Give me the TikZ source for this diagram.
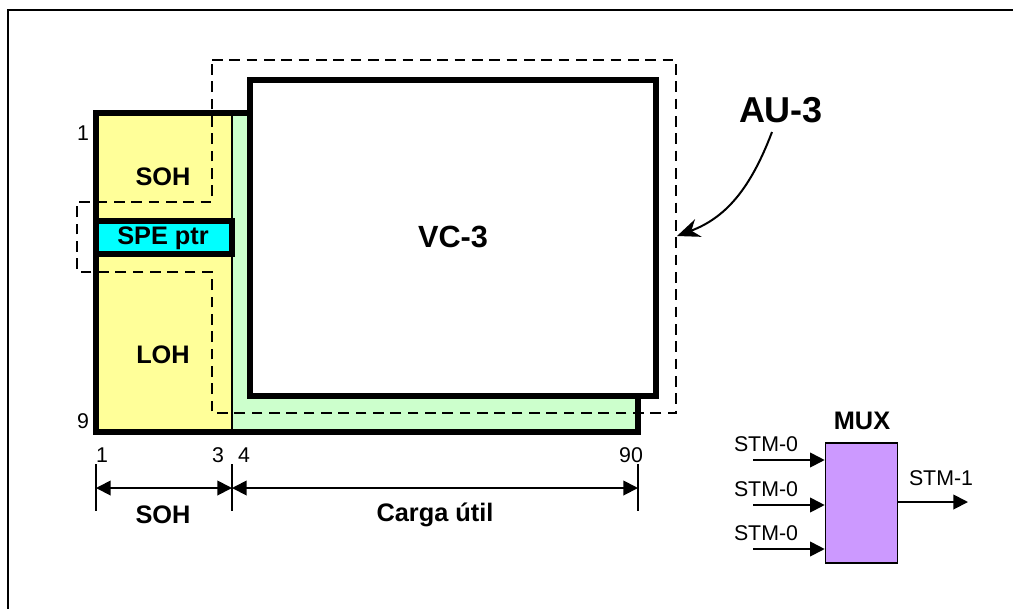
\documentclass[tikz,border=0pt]{standalone}
\usepackage{fontspec}
\setmainfont{Liberation Sans}
\usepackage{xcolor}
\usetikzlibrary{arrows.meta, positioning}

\definecolor{sohyellow}{RGB}{255,255,153}
\definecolor{paygreen}{RGB}{204,255,204}
\definecolor{ptrcyan}{RGB}{0,255,255}
\definecolor{muxpurple}{RGB}{204,153,255}

\begin{document}
\begin{tikzpicture}[x=0.75pt, y=-0.75pt, line width=1pt,
    heavy/.style={line width=4.5pt},
    aubox/.style={line width=1.3pt, dash pattern=on 8pt off 5pt},
    big/.style={font=\bfseries\fontsize{19}{22}\selectfont},
    num/.style={font=\fontsize{16}{18}\selectfont},
    stm/.style={font=\fontsize{16}{18}\selectfont},
    sig/.style={-{Triangle[length=11pt,width=11pt]}, line width=1.4pt},
    dim/.style={{Triangle[length=11pt,width=11pt]}-{Triangle[length=11pt,width=11pt]}, line width=1.4pt}]
        \useasboundingbox (0,0) rectangle (1013,608);
        \begin{scope}
            \clip (0,0) rectangle (1013,608);
            \draw[line width=1.6pt] (8,640) -- (8,10) -- (1040,10);
        \end{scope}

        % STM-1 frame
        \fill[sohyellow] (96,113) rectangle (232,432);
        \fill[paygreen] (232,113) rectangle (638,432);
        \draw[line width=0.8pt] (232,113) -- (232,432);

        % AU-3 outline
        \draw[aubox] (212,60) -- (676,60) -- (676,413) -- (212,413) -- (212,272)
                     -- (77,272) -- (77,202) -- (212,202) -- cycle;

        \draw[heavy] (250,113) -- (96,113) -- (96,432) -- (638,432) -- (638,396);
        \draw[heavy, fill=white] (250,80) rectangle (656,396);
        \draw[heavy, fill=ptrcyan] (96,221) rectangle (232,254);

        \node[big] (soh) at (163,177) {SOH};
        \node[big] (ptr) at (163,238) {SPE ptr};
        \node[big] (loh) at (163,355) {LOH};
        \node[big, font=\bfseries\fontsize{23}{26}\selectfont] (vc) at (453,237) {VC-3};

        \node[big, font=\bfseries\fontsize{27}{30}\selectfont] (au) at (781,110) {AU-3};
        \coordinate (auFrom) at (772,132);
        \coordinate (auTip) at (677,236);
        \draw[-{Stealth[length=17pt,width=14pt]}, line width=1.5pt]
            (auFrom) .. controls (750,190) and (725,218) .. (auTip);

        % row and column numbers
        \node[num] (rowA) at (83,133) {1};
        \node[num] (rowB) at (83,421) {9};
        \node[num] (colA) at (102,455) {1};
        \node[num] (colB) at (218,455) {3};
        \node[num] (colC) at (244,455) {4};
        \node[num] (colD) at (631,455) {90};

        \coordinate (tA) at (96,488);
        \coordinate (tB) at (232,488);
        \coordinate (tC) at (638,488);
        \foreach \t in {tA, tB, tC}
            \draw[line width=1.2pt] ([yshift=18pt]\t) -- ([yshift=-17pt]\t);
        \draw[dim] (tA) -- (tB);
        \draw[dim] (tB) -- (tC);
        \node[big] (sohDim) at (163,515) {SOH};
        \node[big] (carga) at (435,515) {Carga útil};

        % multiplexer
        \node[draw, line width=1.2pt, fill=muxpurple, minimum width=54pt, minimum height=90pt] (mux) at (861.5,503) {};
        \node[big] (muxLbl) at (862,421) {MUX};
        \foreach \y/\n in {460/a, 505/b, 549/c} {
            \coordinate (in\n) at (753,\y);
            \draw[sig] (in\n) -- (in\n -| mux.west);
            \node[stm] (lbl\n) at (766,\y-16) {STM-0};
        }
        \coordinate (out) at (968,502);
        \draw[sig] (mux.east |- out) -- (out);
        \node[stm] (outLbl) at (941,478) {STM-1};
\end{tikzpicture}
\end{document}
